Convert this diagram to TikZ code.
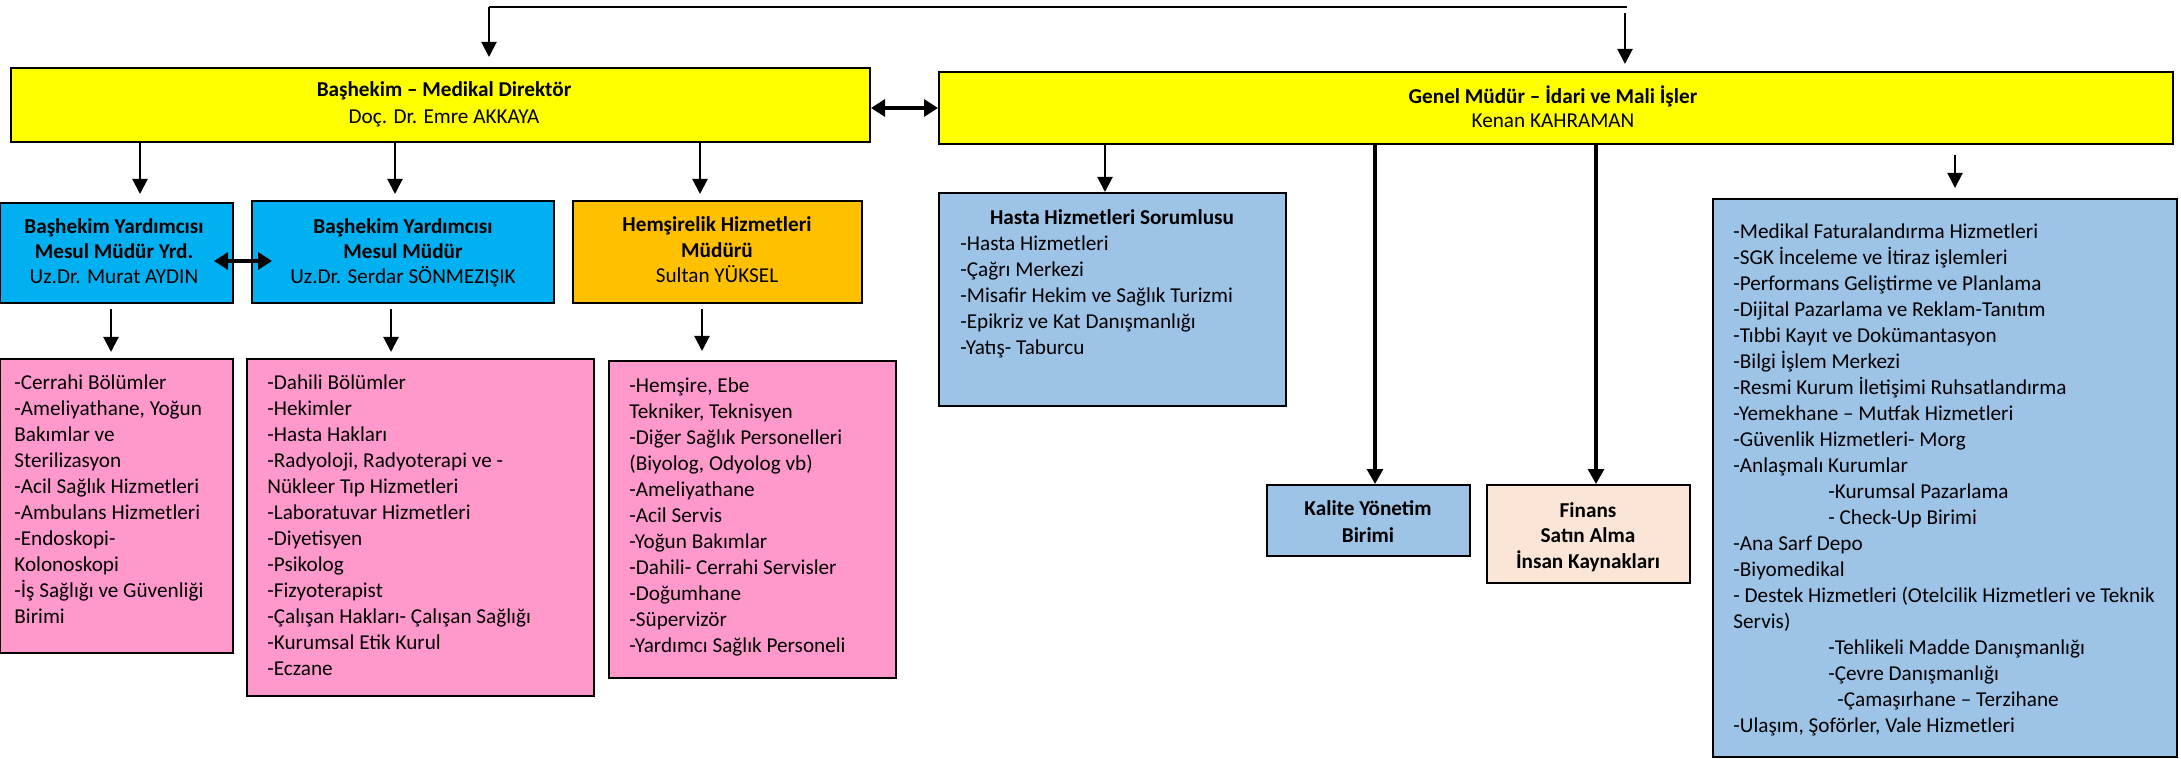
\documentclass[tikz,border=0pt]{standalone}
\usepackage{fontspec}
\setmainfont{Carlito}
\usetikzlibrary{arrows.meta,fit,calc}
\definecolor{yel}{HTML}{FFFF00}
\definecolor{cyanb}{HTML}{00B0F0}
\definecolor{orng}{HTML}{FFC000}
\definecolor{pnk}{HTML}{FF99CC}
\definecolor{lblue}{HTML}{9DC3E6}
\definecolor{peach}{HTML}{FBE5D6}
\newcommand\lst[1]{\parbox[t]{300pt}{\raggedright\fontsize{10.6}{13}\selectfont #1}}
\newcommand\ctr[2]{\parbox[t]{250pt}{\centering\fontsize{10.6}{#1}\selectfont #2}}
\begin{document}
\begin{tikzpicture}[x=0.5pt,y=-0.5pt,
  box/.style={draw=black,line width=1pt,inner sep=0pt},
  lsttxt/.style={anchor=base west,inner sep=0pt},
  ctxt/.style={anchor=base,inner sep=0pt},
  arr/.style={line width=1pt,-{Triangle[width=7.5pt,length=7.5pt]}},
  thk/.style={line width=1.6pt,-{Triangle[width=8pt,length=7.5pt]}},
  dbl/.style={line width=1.6pt,{Triangle[width=8.5pt,length=7pt]}-{Triangle[width=8.5pt,length=7pt]}}]
\useasboundingbox (0,0) rectangle (2181,759);
\fill[white] (0,0) rectangle (2181,759);

% top level boxes
\node[box,fill=yel,fit={(11,68)(870,142)}] (bas) {};
\node[ctxt] (bast) at (444,97) {\ctr{13.5pt}{\textbf{Başhekim – Medikal Direktör}\\Doç. Dr. Emre AKKAYA}};
\node[box,fill=yel,fit={(939,72)(2173,144)}] (gen) {};
\node[ctxt] (gent) at (1553,104) {\ctr{12pt}{\textbf{Genel Müdür – İdari ve Mali İşler}\\Kenan KAHRAMAN}};

% second row
\node[box,fill=cyanb,fit={(0,203)(233,303)}] (y1) {};
\node[ctxt] (y1t) at (114,234) {\ctr{12.5pt}{\textbf{Başhekim Yardımcısı}\\\textbf{Mesul Müdür Yrd.}\\Uz.Dr. Murat AYDIN}};
\node[box,fill=cyanb,fit={(252,201)(554,303)}] (y2) {};
\node[ctxt] (y2t) at (403,234) {\ctr{12.5pt}{\textbf{Başhekim Yardımcısı}\\\textbf{Mesul Müdür}\\Uz.Dr. Serdar SÖNMEZIŞIK}};
\node[box,fill=orng,fit={(573,201)(862,303)}] (hem) {};
\node[ctxt] (hemt) at (717,232) {\ctr{12.75pt}{\textbf{Hemşirelik Hizmetleri}\\\textbf{Müdürü}\\Sultan YÜKSEL}};

% pink boxes
\node[box,fill=pnk,fit={(0,359)(233,653)}] (p1) {};
\node[box,fill=pnk,fit={(247,359)(594,696)}] (p2) {};
\node[box,fill=pnk,fit={(609,361)(896,678)}] (p3) {};
\node[lsttxt] (p1t) at (14,390) {\lst{-Cerrahi Bölümler\\-Ameliyathane, Yoğun\\Bakımlar ve\\Sterilizasyon\\-Acil Sağlık Hizmetleri\\-Ambulans Hizmetleri\\-Endoskopi-\\Kolonoskopi\\-İş Sağlığı ve Güvenliği\\Birimi}};
\node[lsttxt] (p2t) at (267,390) {\lst{-Dahili Bölümler\\-Hekimler\\-Hasta Hakları\\-Radyoloji, Radyoterapi ve -\\Nükleer Tıp Hizmetleri\\-Laboratuvar Hizmetleri\\-Diyetisyen\\-Psikolog\\-Fizyoterapist\\-Çalışan Hakları- Çalışan Sağlığı\\-Kurumsal Etik Kurul\\-Eczane}};
\node[lsttxt] (p3t) at (629,393) {\lst{-Hemşire, Ebe\\Tekniker, Teknisyen\\-Diğer Sağlık Personelleri\\(Biyolog, Odyolog vb)\\-Ameliyathane\\-Acil Servis\\-Yoğun Bakımlar\\-Dahili- Cerrahi Servisler\\-Doğumhane\\-Süpervizör\\-Yardımcı Sağlık Personeli}};

% right side
\node[box,fill=lblue,fit={(939,193)(1286,406)}] (has) {};
\node[anchor=base,inner sep=0pt,font=\fontsize{10.6}{13}\selectfont\bfseries] (hast) at (1112,225) {Hasta Hizmetleri Sorumlusu};
\node[lsttxt] (hasl) at (960,251) {\lst{-Hasta Hizmetleri\\-Çağrı Merkezi\\-Misafir Hekim ve Sağlık Turizmi\\-Epikriz ve Kat Danışmanlığı\\-Yatış- Taburcu}};

\node[box,fill=lblue,fit={(1267,485)(1470,556)}] (kal) {};
\node[ctxt] (kalt) at (1368,515) {\ctr{13.5pt}{\textbf{Kalite Yönetim}\\\textbf{Birimi}}};
\node[box,fill=peach,fit={(1487,485)(1690,583)}] (fin) {};
\node[ctxt] (fint) at (1588,517) {\ctr{12.75pt}{\textbf{Finans}\\\textbf{Satın Alma}\\\textbf{İnsan Kaynakları}}};

\node[box,fill=lblue,fit={(1713,199)(2177,757)}] (big) {};
\node[lsttxt] (bigt) at (1733,239) {\lst{-Medikal Faturalandırma Hizmetleri\\-SGK İnceleme ve İtiraz işlemleri\\-Performans Geliştirme ve Planlama\\-Dijital Pazarlama ve Reklam-Tanıtım\\-Tıbbi Kayıt ve Dokümantasyon\\-Bilgi İşlem Merkezi\\-Resmi Kurum İletişimi Ruhsatlandırma\\-Yemekhane – Mutfak Hizmetleri\\-Güvenlik Hizmetleri- Morg\\-Anlaşmalı Kurumlar\\\hspace*{47.5pt}-Kurumsal Pazarlama\\\hspace*{47.5pt}- Check-Up Birimi\\-Ana Sarf Depo\\-Biyomedikal\\- Destek Hizmetleri (Otelcilik Hizmetleri ve Teknik\\Servis)\\\hspace*{47.5pt}-Tehlikeli Madde Danışmanlığı\\\hspace*{47.5pt}-Çevre Danışmanlığı\\\hspace*{52pt}-Çamaşırhane – Terzihane\\-Ulaşım, Şoförler, Vale Hizmetleri}};

% connectors
\coordinate (tl) at (489,7);
\coordinate (tr) at (1627,7);
\coordinate (trs) at (1625,13);
\draw[line width=1pt] (tl) -- (tr);
\draw[arr,shorten >=5pt] (tl) -- (tl |- bas.north);
\draw[arr,shorten >=3.5pt] (trs) -- (trs |- gen.north);

\coordinate (c108) at (0,108);
\draw[dbl] (bas.east |- c108) -- (gen.west |- c108);

\coordinate (xa) at (140,0);
\coordinate (xb) at (395,0);
\coordinate (xc) at (700,0);
\draw[arr,shorten >=4pt] (bas.south -| xa) -- (y1.north -| xa);
\draw[arr,shorten >=3pt] (bas.south -| xb) -- (y2.north -| xb);
\draw[arr,shorten >=3pt] (bas.south -| xc) -- (hem.north -| xc);

\coordinate (c261) at (0,261);
\draw[dbl,shorten <=-10pt,shorten >=-10.5pt] (y1.east |- c261) -- (y2.west |- c261);

\coordinate (xd) at (111,0);
\coordinate (xe) at (391,0);
\coordinate (xf) at (702,0);
\draw[arr,shorten <=2.5pt,shorten >=3pt] (y1.south -| xd) -- (p1.north -| xd);
\draw[arr,shorten <=2.5pt,shorten >=3pt] (y2.south -| xe) -- (p2.north -| xe);
\draw[arr,shorten <=2.5pt,shorten >=4.5pt] (hem.south -| xf) -- (p3.north -| xf);

\coordinate (xg) at (1105,0);
\coordinate (xh) at (1375,0);
\coordinate (xi) at (1596,0);
\coordinate (xj) at (1955,0);
\draw[arr] (gen.south -| xg) -- (has.north -| xg);
\draw[thk] (gen.south -| xh) -- (kal.north -| xh);
\draw[thk] (gen.south -| xi) -- (fin.north -| xi);
\draw[arr,shorten <=5pt,shorten >=5pt] (gen.south -| xj) -- (big.north -| xj);
\end{tikzpicture}
\end{document}
